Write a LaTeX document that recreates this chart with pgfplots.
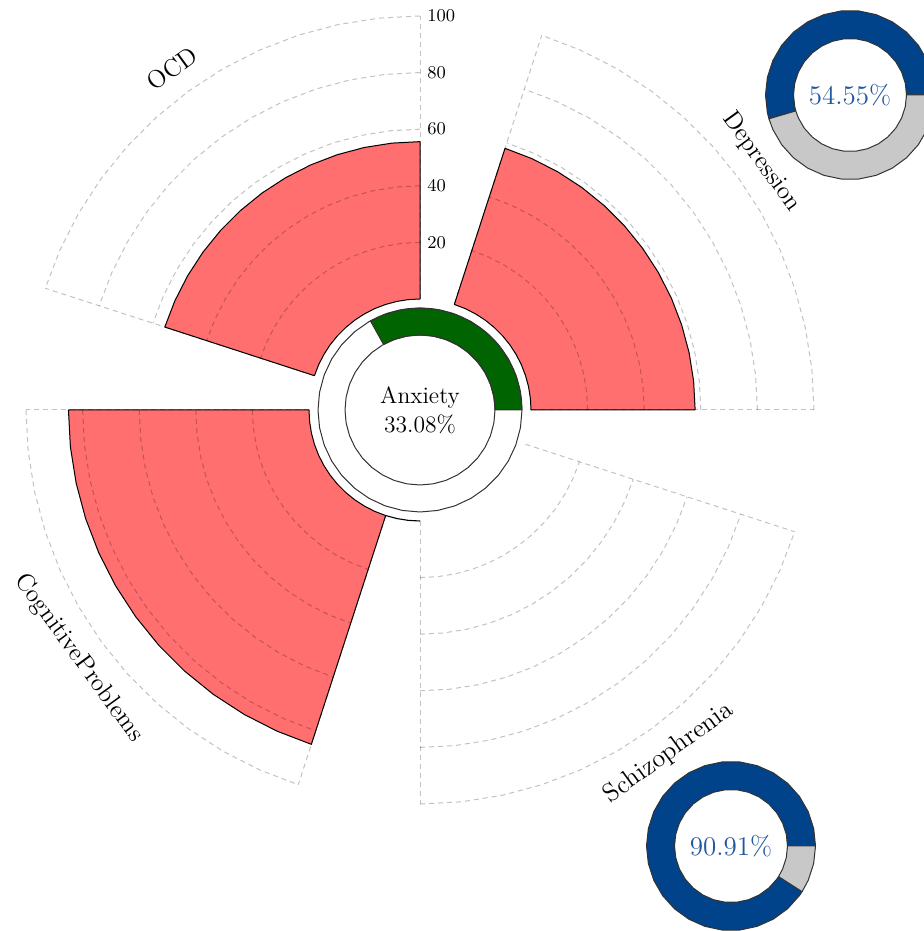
\documentclass[border=0pt]{standalone}
\usepackage{pgfplots}
\usepackage{pgfplotstable}
\pgfplotsset{compat=1.18}
\definecolor{barred}{HTML}{FF6F6F}
\definecolor{ringgreen}{HTML}{006400}
\definecolor{dblue}{HTML}{00438A}
\definecolor{dgray}{HTML}{C8C8C8}
\definecolor{tblue}{HTML}{22589E}
\tikzset{grd/.style={draw=black, draw opacity=0.24, line width=0.5pt, dash pattern=on 2.5pt off 2pt},
         barst/.style={fill=barred, draw=black, line width=0.5pt, line join=round},
         ringst/.style={draw=black!80, line width=0.5pt, line join=round}}
% angle sampling of one 72 degree sector (a = angle, s = placeholder)
\pgfplotstableread[row sep=\\]{a s\\0 0\\6 0\\12 0\\18 0\\24 0\\30 0\\36 0\\42 0\\48 0\\54 0\\60 0\\66 0\\72 0\\}\arcA
\pgfplotstableread[row sep=\\]{a s\\0 0\\10 0\\20 0\\30 0\\40 0\\50 0\\60 0\\70 0\\80 0\\90 0\\100 0\\110 0\\120 0\\130 0\\140 0\\150 0\\160 0\\170 0\\180 0\\190 0\\200 0\\210 0\\220 0\\230 0\\240 0\\250 0\\260 0\\270 0\\280 0\\290 0\\300 0\\310 0\\320 0\\330 0\\340 0\\350 0\\360 0\\}\circA
% bars: angle, value
\pgfplotstableread[row sep=\\]{a v\\
0 58\\6 58\\12 58\\18 58\\24 58\\30 58\\36 58\\42 58\\48 58\\54 58\\60 58\\66 58\\72 58\\
72 0\\66 0\\60 0\\54 0\\48 0\\42 0\\36 0\\30 0\\24 0\\18 0\\12 0\\6 0\\0 0\\0 58\\}\tabDep
\pgfplotstableread[row sep=\\]{a v\\
90 55.6\\96 55.6\\102 55.6\\108 55.6\\114 55.6\\120 55.6\\126 55.6\\132 55.6\\138 55.6\\144 55.6\\150 55.6\\156 55.6\\162 55.6\\
162 0\\156 0\\150 0\\144 0\\138 0\\132 0\\126 0\\120 0\\114 0\\108 0\\102 0\\96 0\\90 0\\90 55.6\\}\tabOCD
\pgfplotstableread[row sep=\\]{a v\\
180 85\\186 85\\192 85\\198 85\\204 85\\210 85\\216 85\\222 85\\228 85\\234 85\\240 85\\246 85\\252 85\\
252 0\\246 0\\240 0\\234 0\\228 0\\222 0\\216 0\\210 0\\204 0\\198 0\\192 0\\186 0\\180 0\\180 85\\}\tabCog
% anxiety ring (33.08 percent = 119.09 degrees)
\pgfplotstableread[row sep=\\]{a r\\
0 102\\6 102\\12 102\\18 102\\24 102\\30 102\\36 102\\42 102\\48 102\\54 102\\60 102\\66 102\\72 102\\78 102\\84 102\\90 102\\96 102\\102 102\\108 102\\114 102\\119.09 102\\
119.09 75\\114 75\\108 75\\102 75\\96 75\\90 75\\84 75\\78 75\\72 75\\66 75\\60 75\\54 75\\48 75\\42 75\\36 75\\30 75\\24 75\\18 75\\12 75\\6 75\\0 75\\0 102\\}\tabAnx
% depression donut 54.55 percent = 196.38 degrees
\pgfplotstableread[row sep=\\]{a r\\
0 84.5\\12 84.5\\24 84.5\\36 84.5\\48 84.5\\60 84.5\\72 84.5\\84 84.5\\96 84.5\\108 84.5\\120 84.5\\132 84.5\\144 84.5\\156 84.5\\168 84.5\\180 84.5\\192 84.5\\196.38 84.5\\
196.38 56.5\\192 56.5\\180 56.5\\168 56.5\\156 56.5\\144 56.5\\132 56.5\\120 56.5\\108 56.5\\96 56.5\\84 56.5\\72 56.5\\60 56.5\\48 56.5\\36 56.5\\24 56.5\\12 56.5\\0 56.5\\0 84.5\\}\tabTB
\pgfplotstableread[row sep=\\]{a r\\
196.38 84.5\\204 84.5\\216 84.5\\228 84.5\\240 84.5\\252 84.5\\264 84.5\\276 84.5\\288 84.5\\300 84.5\\312 84.5\\324 84.5\\336 84.5\\348 84.5\\360 84.5\\
360 56.5\\348 56.5\\336 56.5\\324 56.5\\312 56.5\\300 56.5\\288 56.5\\276 56.5\\264 56.5\\252 56.5\\240 56.5\\228 56.5\\216 56.5\\204 56.5\\196.38 56.5\\196.38 84.5\\}\tabTG
% schizophrenia donut 90.91 percent = 327.28 degrees
\pgfplotstableread[row sep=\\]{a r\\
0 84.5\\12 84.5\\24 84.5\\36 84.5\\48 84.5\\60 84.5\\72 84.5\\84 84.5\\96 84.5\\108 84.5\\120 84.5\\132 84.5\\144 84.5\\156 84.5\\168 84.5\\180 84.5\\192 84.5\\204 84.5\\216 84.5\\228 84.5\\240 84.5\\252 84.5\\264 84.5\\276 84.5\\288 84.5\\300 84.5\\312 84.5\\324 84.5\\327.28 84.5\\
327.28 56.5\\324 56.5\\312 56.5\\300 56.5\\288 56.5\\276 56.5\\264 56.5\\252 56.5\\240 56.5\\228 56.5\\216 56.5\\204 56.5\\192 56.5\\180 56.5\\168 56.5\\156 56.5\\144 56.5\\132 56.5\\120 56.5\\108 56.5\\96 56.5\\84 56.5\\72 56.5\\60 56.5\\48 56.5\\36 56.5\\24 56.5\\12 56.5\\0 56.5\\0 84.5\\}\tabBB
\pgfplotstableread[row sep=\\]{a r\\
327.28 84.5\\336 84.5\\348 84.5\\360 84.5\\360 56.5\\348 56.5\\336 56.5\\327.28 56.5\\327.28 84.5\\}\tabBG
\begin{document}
\begin{tikzpicture}
\begin{axis}[hide axis, x=0.5pt, y=0.5pt, xmin=-420, xmax=504, ymin=-521, ymax=410, clip=true]
\coordinate (BL) at (axis cs:-420,-521);
\coordinate (TR) at (axis cs:504,410);
% bars
\addplot[barst] table[x expr={(111+2.83*\thisrow{v})*cos(\thisrow{a})}, y expr={(111+2.83*\thisrow{v})*sin(\thisrow{a})}] {\tabDep};
\addplot[barst] table[x expr={(111+2.83*\thisrow{v})*cos(\thisrow{a})}, y expr={(111+2.83*\thisrow{v})*sin(\thisrow{a})}] {\tabOCD};
\addplot[barst] table[x expr={(111+2.83*\thisrow{v})*cos(\thisrow{a})}, y expr={(111+2.83*\thisrow{v})*sin(\thisrow{a})}] {\tabCog};
\addplot[black, line width=0.55pt] coordinates {(-34.30,-105.57) (-23.08,-108.57) (-11.60,-110.39) (0,-111)};
% grid arcs
\pgfplotsinvokeforeach{0,90,180,270}{
 \addplot[grd] table[x expr={167.6*cos(\thisrow{a}+#1)}, y expr={167.6*sin(\thisrow{a}+#1)}]{\arcA};
 \addplot[grd] table[x expr={224.2*cos(\thisrow{a}+#1)}, y expr={224.2*sin(\thisrow{a}+#1)}]{\arcA};
 \addplot[grd] table[x expr={280.8*cos(\thisrow{a}+#1)}, y expr={280.8*sin(\thisrow{a}+#1)}]{\arcA};
 \addplot[grd] table[x expr={337.4*cos(\thisrow{a}+#1)}, y expr={337.4*sin(\thisrow{a}+#1)}]{\arcA};
 \addplot[grd] table[x expr={394*cos(\thisrow{a}+#1)}, y expr={394*sin(\thisrow{a}+#1)}]{\arcA};
}
% radial grid edges
\addplot[grd] coordinates {(111,0) (394,0)};
\addplot[grd] coordinates {(34.30,105.57) (121.75,374.72)};
\addplot[grd] coordinates {(0,111) (0,394)};
\addplot[grd] coordinates {(-105.57,34.30) (-374.72,121.75)};
\addplot[grd] coordinates {(-111,0) (-394,0)};
\addplot[grd] coordinates {(-34.30,-105.57) (-121.75,-374.72)};
\addplot[grd] coordinates {(0,-111) (0,-394)};
\addplot[grd] coordinates {(105.57,-34.30) (374.72,-121.75)};
% anxiety ring
\addplot[ringst, fill=ringgreen] table[x expr={\thisrow{r}*cos(\thisrow{a})}, y expr={\thisrow{r}*sin(\thisrow{a})}] {\tabAnx};
\addplot[ringst] table[x expr={102*cos(\thisrow{a})}, y expr={102*sin(\thisrow{a})}] {\circA};
\addplot[ringst] table[x expr={75*cos(\thisrow{a})}, y expr={75*sin(\thisrow{a})}] {\circA};
% donuts
\addplot[ringst, fill=dblue] table[x expr={430+\thisrow{r}*cos(\thisrow{a})}, y expr={315+\thisrow{r}*sin(\thisrow{a})}] {\tabTB};
\addplot[ringst, fill=dgray] table[x expr={430+\thisrow{r}*cos(\thisrow{a})}, y expr={315+\thisrow{r}*sin(\thisrow{a})}] {\tabTG};
\addplot[ringst, fill=dblue] table[x expr={311+\thisrow{r}*cos(\thisrow{a})}, y expr={-436+\thisrow{r}*sin(\thisrow{a})}] {\tabBB};
\addplot[ringst, fill=dgray] table[x expr={311+\thisrow{r}*cos(\thisrow{a})}, y expr={-436+\thisrow{r}*sin(\thisrow{a})}] {\tabBG};
% texts
\node[align=center, font=\fontsize{11.8}{14.5}\selectfont] at (axis cs:0,0) {Anxiety\\33.08\%};
\node[text=tblue, font=\fontsize{13.5}{16}\selectfont] at (axis cs:430,315) {54.55\%};
\node[text=tblue, font=\fontsize{13.5}{16}\selectfont] at (axis cs:311,-436) {90.91\%};
\node[anchor=west, font=\fontsize{9}{10}\selectfont, inner sep=0pt] at (axis cs:7,167.6) {20};
\node[anchor=west, font=\fontsize{9}{10}\selectfont, inner sep=0pt] at (axis cs:7,224.2) {40};
\node[anchor=west, font=\fontsize{9}{10}\selectfont, inner sep=0pt] at (axis cs:7,280.8) {60};
\node[anchor=west, font=\fontsize{9}{10}\selectfont, inner sep=0pt] at (axis cs:7,337.4) {80};
\node[anchor=west, font=\fontsize{9}{10}\selectfont, inner sep=0pt] at (axis cs:7,394) {100};
\node[rotate=-54, font=\fontsize{12.5}{15}\selectfont] at (axis cs:341.4,248.0) {Depression};
\node[rotate=36, font=\fontsize{12.5}{15}\selectfont] at (axis cs:-248.0,341.4) {OCD};
\node[rotate=-54, font=\fontsize{12.5}{15}\selectfont] at (axis cs:-341.4,-248.0) {CognitiveProblems};
\node[rotate=36, font=\fontsize{13}{15}\selectfont] at (axis cs:249.0,-343.0) {Schizophrenia};
\end{axis}
\pgfresetboundingbox
\useasboundingbox (BL) rectangle (TR);
\end{tikzpicture}
\end{document}
